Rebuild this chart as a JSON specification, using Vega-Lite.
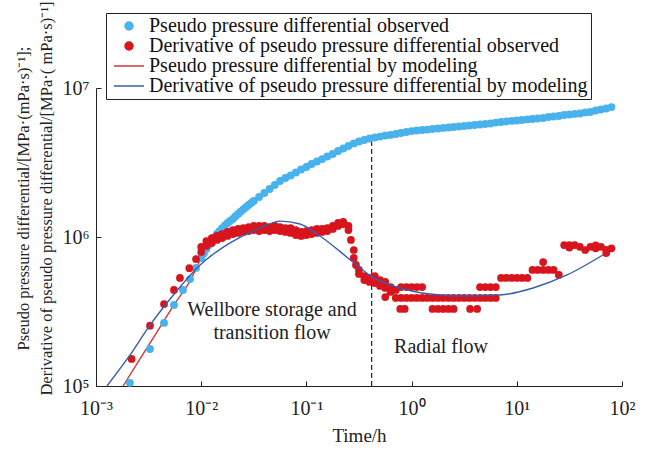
{
  "$schema": "https://vega.github.io/schema/vega-lite/v6.json",
  "width": 526,
  "height": 298,
  "autosize": {"type": "none"},
  "padding": {"left": 96, "top": 88, "right": 30, "bottom": 66},
  "background": "white",
  "config": {
    "view": {"stroke": null},
    "font": "Liberation Serif",
    "axis": {
      "grid": false,
      "tickSize": -5,
      "domainColor": "#222",
      "tickColor": "#222",
      "labelColor": "#222",
      "titleColor": "#222",
      "labelFont": "Liberation Serif",
      "titleFont": "Liberation Serif",
      "labelFontSize": 20,
      "titleFontWeight": "normal",
      "labelFlush": false,
      "labelOverlap": false
    }
  },
  "datasets": {
    "obsP": [
      {"t": 0.0021, "v": 105000}, {"t": 0.00326, "v": 177000}, {"t": 0.00443, "v": 265000}, {"t": 0.00551, "v": 350000},
      {"t": 0.00671, "v": 441000}, {"t": 0.00783, "v": 522000}, {"t": 0.00893, "v": 620000},
      {"t": 0.01, "v": 723000}, {"t": 0.0106, "v": 775000}, {"t": 0.0112, "v": 830000}, {"t": 0.0119, "v": 883000},
      {"t": 0.0126, "v": 940000}, {"t": 0.0133, "v": 992000}, {"t": 0.0141, "v": 1047000}, {"t": 0.0149, "v": 1096000},
      {"t": 0.0158, "v": 1148000}, {"t": 0.0168, "v": 1194000}, {"t": 0.0178, "v": 1242000}, {"t": 0.0188, "v": 1281000},
      {"t": 0.02, "v": 1321000}, {"t": 0.0211, "v": 1372000}, {"t": 0.0224, "v": 1426000}, {"t": 0.0237, "v": 1478000},
      {"t": 0.0251, "v": 1530000}, {"t": 0.0266, "v": 1584000}, {"t": 0.0282, "v": 1640000}, {"t": 0.0299, "v": 1692000},
      {"t": 0.0316, "v": 1746000}, {"t": 0.0355, "v": 1854000}, {"t": 0.0398, "v": 1972000}, {"t": 0.0447, "v": 2099000},
      {"t": 0.0501, "v": 2234000}, {"t": 0.0562, "v": 2377000}, {"t": 0.0631, "v": 2489000}, {"t": 0.0708, "v": 2588000},
      {"t": 0.0794, "v": 2710000}, {"t": 0.0891, "v": 2838000}, {"t": 0.1, "v": 2951000}, {"t": 0.112, "v": 3090000},
      {"t": 0.126, "v": 3214000}, {"t": 0.141, "v": 3334000}, {"t": 0.158, "v": 3467000}, {"t": 0.178, "v": 3606000},
      {"t": 0.2, "v": 3776000}, {"t": 0.224, "v": 3926000}, {"t": 0.251, "v": 4083000}, {"t": 0.282, "v": 4246000},
      {"t": 0.316, "v": 4375000}, {"t": 0.355, "v": 4477000}, {"t": 0.398, "v": 4581000}, {"t": 0.447, "v": 4656000},
      {"t": 0.501, "v": 4721000}, {"t": 0.562, "v": 4797000}, {"t": 0.631, "v": 4842000}, {"t": 0.708, "v": 4909000},
      {"t": 0.794, "v": 4989000}, {"t": 0.891, "v": 5070000}, {"t": 1, "v": 5140000}, {"t": 1.12, "v": 5188000},
      {"t": 1.26, "v": 5224000}, {"t": 1.41, "v": 5260000}, {"t": 1.58, "v": 5309000}, {"t": 1.78, "v": 5346000},
      {"t": 2, "v": 5395000}, {"t": 2.24, "v": 5433000}, {"t": 2.51, "v": 5470000}, {"t": 2.82, "v": 5521000},
      {"t": 3.16, "v": 5559000}, {"t": 3.55, "v": 5598000}, {"t": 3.98, "v": 5649000}, {"t": 4.47, "v": 5689000},
      {"t": 5.01, "v": 5728000}, {"t": 5.62, "v": 5781000}, {"t": 6.31, "v": 5861000}, {"t": 7.08, "v": 5916000},
      {"t": 7.94, "v": 5957000}, {"t": 8.91, "v": 6012000}, {"t": 10, "v": 6053000}, {"t": 11.2, "v": 6095000},
      {"t": 12.6, "v": 6152000}, {"t": 14.1, "v": 6194000}, {"t": 15.8, "v": 6237000}, {"t": 17.8, "v": 6295000},
      {"t": 20, "v": 6383000}, {"t": 22.4, "v": 6442000}, {"t": 25.1, "v": 6486000}, {"t": 28.2, "v": 6592000},
      {"t": 31.6, "v": 6637000}, {"t": 35.5, "v": 6699000}, {"t": 39.8, "v": 6745000}, {"t": 44.7, "v": 6855000},
      {"t": 50.1, "v": 6902000}, {"t": 56.2, "v": 7063000}, {"t": 63.1, "v": 7178000}, {"t": 70.8, "v": 7278000},
      {"t": 79.4, "v": 7447000}
    ],
    "obsD": [
      {"t": 0.00218, "v": 152000}, {"t": 0.00326, "v": 254000}, {"t": 0.00443, "v": 355000}, {"t": 0.00551, "v": 441000},
      {"t": 0.00628, "v": 531000}, {"t": 0.00771, "v": 617000}, {"t": 0.00893, "v": 711000},
      {"t": 0.01, "v": 793000}, {"t": 0.01, "v": 857000}, {"t": 0.0112, "v": 871000}, {"t": 0.0112, "v": 940000},
      {"t": 0.0126, "v": 912000}, {"t": 0.0126, "v": 984000}, {"t": 0.0141, "v": 955000}, {"t": 0.0141, "v": 1016000},
      {"t": 0.0158, "v": 984000}, {"t": 0.0158, "v": 1047000}, {"t": 0.0178, "v": 1016000}, {"t": 0.0178, "v": 1081000},
      {"t": 0.02, "v": 1047000}, {"t": 0.02, "v": 1114000}, {"t": 0.0224, "v": 1064000}, {"t": 0.0224, "v": 1132000},
      {"t": 0.0251, "v": 1081000}, {"t": 0.0251, "v": 1148000}, {"t": 0.0282, "v": 1096000}, {"t": 0.0282, "v": 1167000},
      {"t": 0.0316, "v": 1114000}, {"t": 0.0316, "v": 1186000}, {"t": 0.0355, "v": 1096000}, {"t": 0.0355, "v": 1186000},
      {"t": 0.0398, "v": 1114000}, {"t": 0.0398, "v": 1186000}, {"t": 0.0447, "v": 1096000}, {"t": 0.0447, "v": 1167000},
      {"t": 0.0501, "v": 1114000}, {"t": 0.0501, "v": 1186000}, {"t": 0.0562, "v": 1096000}, {"t": 0.0562, "v": 1167000},
      {"t": 0.0631, "v": 1081000}, {"t": 0.0631, "v": 1148000}, {"t": 0.0708, "v": 1064000}, {"t": 0.0708, "v": 1148000},
      {"t": 0.0794, "v": 1031000}, {"t": 0.0794, "v": 1114000}, {"t": 0.0891, "v": 1016000}, {"t": 0.0891, "v": 1081000},
      {"t": 0.1, "v": 1031000}, {"t": 0.1, "v": 1096000}, {"t": 0.112, "v": 1047000}, {"t": 0.112, "v": 1114000},
      {"t": 0.126, "v": 1064000}, {"t": 0.126, "v": 1132000}, {"t": 0.141, "v": 1081000}, {"t": 0.141, "v": 1132000},
      {"t": 0.158, "v": 1096000}, {"t": 0.158, "v": 1148000}, {"t": 0.178, "v": 1132000}, {"t": 0.178, "v": 1186000},
      {"t": 0.2, "v": 1186000}, {"t": 0.2, "v": 1242000}, {"t": 0.224, "v": 1222000}, {"t": 0.224, "v": 1262000},
      {"t": 0.251, "v": 1186000}, {"t": 0.251, "v": 1114000}, {"t": 0.265, "v": 955000},
      {"t": 0.282, "v": 818000}, {"t": 0.282, "v": 723000}, {"t": 0.296, "v": 649000},
      {"t": 0.316, "v": 601000}, {"t": 0.316, "v": 565000}, {"t": 0.355, "v": 547000}, {"t": 0.355, "v": 514000},
      {"t": 0.398, "v": 531000}, {"t": 0.398, "v": 499000}, {"t": 0.447, "v": 547000}, {"t": 0.447, "v": 491000},
      {"t": 0.501, "v": 514000}, {"t": 0.501, "v": 469000}, {"t": 0.562, "v": 499000}, {"t": 0.562, "v": 455000},
      {"t": 0.562, "v": 395000}, {"t": 0.631, "v": 461000}, {"t": 0.631, "v": 428000},
      {"t": 0.708, "v": 441000}, {"t": 0.708, "v": 390000},
      {"t": 0.794, "v": 390000}, {"t": 0.891, "v": 390000}, {"t": 1, "v": 390000}, {"t": 1.12, "v": 390000},
      {"t": 1.26, "v": 390000}, {"t": 1.41, "v": 390000}, {"t": 1.58, "v": 390000}, {"t": 1.78, "v": 390000},
      {"t": 2, "v": 390000}, {"t": 2.24, "v": 390000}, {"t": 2.51, "v": 390000}, {"t": 2.82, "v": 390000},
      {"t": 3.16, "v": 390000}, {"t": 3.55, "v": 390000}, {"t": 3.98, "v": 390000}, {"t": 4.47, "v": 390000},
      {"t": 5.01, "v": 390000}, {"t": 5.62, "v": 390000}, {"t": 6.31, "v": 390000},
      {"t": 0.794, "v": 461000}, {"t": 0.891, "v": 461000}, {"t": 1, "v": 461000}, {"t": 1.12, "v": 461000}, {"t": 1.26, "v": 461000},
      {"t": 4.47, "v": 461000}, {"t": 5.01, "v": 461000}, {"t": 5.62, "v": 461000}, {"t": 6.31, "v": 461000},
      {"t": 0.78, "v": 329000}, {"t": 0.86, "v": 329000}, {"t": 1.58, "v": 329000}, {"t": 1.78, "v": 329000},
      {"t": 2, "v": 329000}, {"t": 2.24, "v": 329000}, {"t": 2.51, "v": 329000}, {"t": 3.6, "v": 329000}, {"t": 4.2, "v": 329000},
      {"t": 7.08, "v": 531000}, {"t": 7.94, "v": 531000}, {"t": 8.91, "v": 531000}, {"t": 10, "v": 531000},
      {"t": 11.2, "v": 531000}, {"t": 12.6, "v": 531000},
      {"t": 14.1, "v": 601000}, {"t": 15.8, "v": 601000}, {"t": 17.8, "v": 601000}, {"t": 20, "v": 601000}, {"t": 22.4, "v": 601000},
      {"t": 17.8, "v": 679000}, {"t": 25.1, "v": 556000},
      {"t": 28.2, "v": 883000}, {"t": 31.6, "v": 883000}, {"t": 35.5, "v": 883000}, {"t": 31.6, "v": 850000},
      {"t": 39.8, "v": 860000}, {"t": 44.7, "v": 818000}, {"t": 50.1, "v": 860000}, {"t": 56.2, "v": 840000},
      {"t": 56.2, "v": 880000}, {"t": 63.1, "v": 860000}, {"t": 70.8, "v": 820000}, {"t": 70.8, "v": 780000},
      {"t": 79.4, "v": 840000}
    ],
    "modP": [
      {"t": 0.00181, "v": 100000}, {"t": 0.00262, "v": 152000}, {"t": 0.0038, "v": 230000}, {"t": 0.00551, "v": 350000},
      {"t": 0.00783, "v": 507000}, {"t": 0.01, "v": 723000}, {"t": 0.0141, "v": 1047000}, {"t": 0.02, "v": 1321000},
      {"t": 0.0282, "v": 1640000}, {"t": 0.0398, "v": 1972000}, {"t": 0.0562, "v": 2377000}, {"t": 0.0794, "v": 2710000},
      {"t": 0.112, "v": 3090000}, {"t": 0.158, "v": 3467000}, {"t": 0.224, "v": 3926000}, {"t": 0.316, "v": 4375000},
      {"t": 0.447, "v": 4656000}, {"t": 0.631, "v": 4842000}, {"t": 1, "v": 5140000}, {"t": 2, "v": 5395000},
      {"t": 5.01, "v": 5728000}, {"t": 10, "v": 6053000}, {"t": 20, "v": 6383000}, {"t": 39.8, "v": 6745000},
      {"t": 79.4, "v": 7447000}
    ],
    "modD": [
      {"t": 0.00127, "v": 100000}, {"t": 0.0021, "v": 161000}, {"t": 0.00326, "v": 256000}, {"t": 0.00564, "v": 421000},
      {"t": 0.00975, "v": 649000}, {"t": 0.0188, "v": 912000}, {"t": 0.0362, "v": 1148000}, {"t": 0.0561, "v": 1279000},
      {"t": 0.0869, "v": 1222000}, {"t": 0.1346, "v": 1016000}, {"t": 0.277, "v": 679000}, {"t": 0.421, "v": 540000},
      {"t": 0.776, "v": 455000}, {"t": 1.5, "v": 414000}, {"t": 2.88, "v": 402000}, {"t": 6.92, "v": 408000},
      {"t": 14.3, "v": 455000}, {"t": 30, "v": 556000}, {"t": 65.9, "v": 757000}
    ],
    "divider": [{"t": 0.417, "v": 100000, "v2": 4600000}],
    "notes": [
      {"t": 0.0471, "v": 324000, "label": "Wellbore storage and"},
      {"t": 0.0471, "v": 227000, "label": "transition flow"},
      {"t": 1.905, "v": 183000, "label": "Radial flow"}
    ]
  },
  "encoding": {
    "x": {
      "field": "t", "type": "quantitative",
      "scale": {"type": "log", "domain": [0.001, 100], "nice": false},
      "axis": {
        "title": "Time/h",
        "values": [0.001, 0.01, 0.1, 1, 10, 100],
        "labelExpr": "datum.value < 0.005 ? '10⁻³' : datum.value < 0.05 ? '10⁻²' : datum.value < 0.5 ? '10⁻¹' : datum.value < 5 ? '10⁰' : datum.value < 50 ? '10¹' : '10²'",
        "labelPadding": 17,
        "titleFontSize": 19,
        "titlePadding": 8
      }
    },
    "y": {
      "field": "v", "type": "quantitative",
      "scale": {"type": "log", "domain": [100000, 10000000], "nice": false},
      "axis": {
        "title": ["Pseudo pressure differential/[MPa·(mPa·s)⁻¹];", "Derivative of pseudo pressure differential/[MPa·( mPa·s)⁻¹]"],
        "values": [100000, 1000000, 10000000],
        "labelExpr": "datum.value < 500000 ? '10⁵' : datum.value < 5000000 ? '10⁶' : '10⁷'",
        "labelPadding": 12,
        "titleFontSize": 16.5,
        "titleLineHeight": 23,
        "titleAngle": -90,
        "titleX": -81,
        "titleY": 110,
        "titleAlign": "center",
        "titleBaseline": "top"
      }
    }
  },
  "layer": [
    {
      "data": {"name": "divider"},
      "mark": {"type": "rule", "color": "#222", "strokeDash": [5, 3], "strokeWidth": 1.2},
      "encoding": {"y2": {"field": "v2"}}
    },
    {
      "data": {"name": "modP"},
      "mark": {"type": "line", "strokeWidth": 1.4, "interpolate": "monotone"},
      "encoding": {
        "color": {
          "datum": "Pseudo pressure differential by modeling", "type": "nominal",
          "scale": {
            "domain": ["Pseudo pressure differential observed", "Derivative of pseudo pressure differential observed", "Pseudo pressure differential by modeling", "Derivative of pseudo pressure differential by modeling"],
            "range": ["#48b2ec", "#d8141c", "#d43535", "#3a5ca8"]
          },
          "legend": {
            "title": null,
            "orient": "none",
            "legendX": 10,
            "legendY": -75,
            "labelFont": "Liberation Serif",
            "labelFontSize": 20,
            "labelColor": "#111",
            "labelLimit": 700,
            "symbolSize": 64,
            "symbolStrokeWidth": 1.5,
            "symbolOffset": 10,
            "labelOffset": 10,
            "rowPadding": 0,
            "padding": 3,
            "strokeColor": "#222",
            "fillColor": "white"
          }
        }
      }
    },
    {
      "data": {"name": "obsP"},
      "mark": {"type": "point", "filled": true, "size": 62, "opacity": 1},
      "encoding": {
        "color": {"datum": "Pseudo pressure differential observed", "type": "nominal"},
        "shape": {
          "datum": "Pseudo pressure differential observed", "type": "nominal",
          "scale": {
            "domain": ["Pseudo pressure differential observed", "Derivative of pseudo pressure differential observed", "Pseudo pressure differential by modeling", "Derivative of pseudo pressure differential by modeling"],
            "range": ["circle", "circle", "M-3.75,0H3.75", "M-3.75,0H3.75"]
          },
          "legend": {
            "title": null,
            "orient": "none",
            "legendX": 10,
            "legendY": -75,
            "labelFont": "Liberation Serif",
            "labelFontSize": 20,
            "labelColor": "#111",
            "labelLimit": 700,
            "symbolSize": 64,
            "symbolStrokeWidth": 1.5,
            "symbolOffset": 10,
            "labelOffset": 10,
            "rowPadding": 0,
            "padding": 3,
            "strokeColor": "#222",
            "fillColor": "white"
          }
        }
      }
    },
    {
      "data": {"name": "obsD"},
      "mark": {"type": "point", "filled": true, "size": 60, "opacity": 1},
      "encoding": {
        "color": {"datum": "Derivative of pseudo pressure differential observed", "type": "nominal"},
        "shape": {"datum": "Derivative of pseudo pressure differential observed", "type": "nominal"}
      }
    },
    {
      "data": {"name": "modD"},
      "mark": {"type": "line", "strokeWidth": 1.4, "interpolate": "monotone"},
      "encoding": {"color": {"datum": "Derivative of pseudo pressure differential by modeling", "type": "nominal"}}
    },
    {
      "data": {"name": "notes"},
      "mark": {"type": "text", "font": "Liberation Serif", "fontSize": 20, "color": "#222", "align": "center", "baseline": "middle"},
      "encoding": {"text": {"field": "label"}}
    }
  ]
}
